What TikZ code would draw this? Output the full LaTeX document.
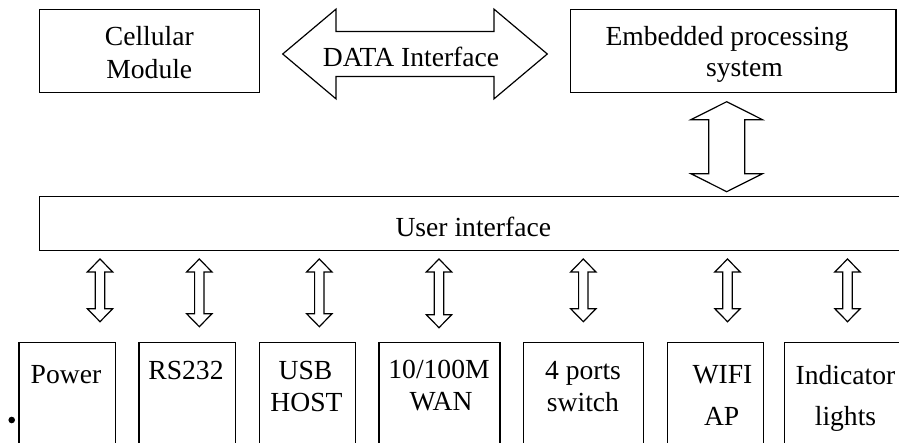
\documentclass[tikz,border=0pt]{standalone}
\usepackage{fontspec}
\setmainfont{Liberation Serif}
\usetikzlibrary{calc}
\tikzset{
  box/.style={draw=black, line width=1.3pt, inner sep=0pt, outer sep=0pt, fill=none},
  lbl/.style={inner sep=0pt, outer sep=0pt, anchor=base, font=\fontsize{27.6pt}{32pt}\selectfont},
  blk/.style={draw=black, line width=1.2pt, line join=miter, fill=white},
}
\newcommand\hdarrow[5]{%
  \draw[blk] let \p1=#1, \p2=#2 in (\p1) -- (\x1+#5pt,\y1+#4pt) -- (\x1+#5pt,\y1+#3pt) -- (\x2-#5pt,\y1+#3pt) -- (\x2-#5pt,\y1+#4pt) -- (\x2,\y1) -- (\x2-#5pt,\y1-#4pt) -- (\x2-#5pt,\y1-#3pt) -- (\x1+#5pt,\y1-#3pt) -- (\x1+#5pt,\y1-#4pt) -- cycle;}
\newcommand\vdarrow[5]{%
  \draw[blk] let \p1=#1, \p2=#2 in (\p1) -- (\x1+#4pt,\y1-#5pt) -- (\x1+#3pt,\y1-#5pt) -- (\x1+#3pt,\y2+#5pt) -- (\x1+#4pt,\y2+#5pt) -- (\x1,\y2) -- (\x1-#4pt,\y2+#5pt) -- (\x1-#3pt,\y2+#5pt) -- (\x1-#3pt,\y1-#5pt) -- (\x1-#4pt,\y1-#5pt) -- cycle;}
\begin{document}
\begin{tikzpicture}[x=1pt, y=-1pt]
\useasboundingbox (0,0) rectangle (899,443);
\fill[white] (0,0) rectangle (899,443);
\clip (0,0) rectangle (899,443);
% top boxes
\node[box, minimum width=220pt, minimum height=83.4pt] (cell) at (149.3,51) {};
\node[box, minimum width=325.3pt, minimum height=83.4pt] (emb) at (733.35,51) {};
\node[box, minimum width=868.7pt, minimum height=54pt] (ui) at (473.65,223.7) {};
% bottom boxes
\node[box, minimum width=96.7pt, minimum height=117.7pt] (pw) at (67.35,401.15) {};
\node[box, minimum width=96.3pt, minimum height=117.7pt] (rs) at (187.15,401.15) {};
\node[box, minimum width=96.4pt, minimum height=117.7pt] (usb) at (307.5,401.15) {};
\node[box, minimum width=121pt, minimum height=117.7pt] (wan) at (439.5,401.15) {};
\node[box, minimum width=120pt, minimum height=117.7pt] (sw) at (583.3,401.15) {};
\node[box, minimum width=96pt, minimum height=117.7pt] (wifi) at (715.3,401.15) {};
\node[box, minimum width=122.7pt, minimum height=117.7pt] (ind) at (845.65,401.15) {};
% labels
\node[lbl] (cellA) at (149.3,45.7) {Cellular};
\node[lbl] (cellB) at (149.3,78.3) {Module};
\node[lbl] (embA) at (727,45.7) {Embedded processing};
\node[lbl] (embB) at (744.5,77) {system};
\node[lbl] (uiT) at (473.3,236.7) {User interface};
\node[lbl] (pwT) at (66,383.3) {Power};
\node[lbl] (rsT) at (186,379) {RS232};
\node[lbl] (usbA) at (305.5,379.3) {USB};
\node[lbl] (usbB) at (306.5,411.7) {HOST};
\node[lbl] (wanA) at (439,378.8) {10/100M};
\node[lbl] (wanB) at (441,410.5) {WAN};
\node[lbl] (swA) at (583,379) {4 ports};
\node[lbl] (swB) at (583,411.5) {switch};
\node[lbl] (wifiA) at (722.5,383.5) {WIFI};
\node[lbl] (wifiB) at (721.7,425) {AP};
\node[lbl] (indA) at (845.5,384) {Indicator};
\node[lbl] (indB) at (845.5,425) {lights};
% data interface arrow
\hdarrow{($(cell.east)+(23.4,3)$)}{($(emb.west)+(-23.4,3)$)}{22.5}{44.85}{53.3}
\node[lbl] (dataT) at (411,66.7) {DATA Interface};
% embedded <-> user interface
\vdarrow{($(emb.south)+(-6.65,9)$)}{($(ui.north)+(0,-5)$)}{18}{35.8}{18}
% user interface <-> bottom boxes
\vdarrow{($(ui.south -| pw.north)+(32.65,8.3)$)}{($(pw.north)+(0,-20.6)$)}{4.7}{12.7}{13}
\vdarrow{($(ui.south -| rs.north)+(12.15,8.3)$)}{($(rs.north)+(0,-15.6)$)}{4.7}{12.7}{13}
\vdarrow{($(ui.south -| usb.north)+(11.8,8.3)$)}{($(usb.north)+(0,-15.6)$)}{4.7}{12.7}{13}
\vdarrow{($(ui.south -| wan.north)+(-0.5,8.3)$)}{($(wan.north)+(0,-14.6)$)}{4.7}{12.7}{13}
\vdarrow{($(ui.south -| sw.north)+(0,8.3)$)}{($(sw.north)+(0,-20.6)$)}{4.7}{12.7}{13}
\vdarrow{($(ui.south -| wifi.north)+(12.2,8.3)$)}{($(wifi.north)+(0,-20.6)$)}{4.7}{12.7}{13}
\vdarrow{($(ui.south -| ind.north)+(1.85,8.3)$)}{($(ind.north)+(0,-20.6)$)}{4.7}{12.7}{13}
% bullet
\node[circle, fill=black, inner sep=0pt, minimum size=6.6pt] (dot) at (11.7,420) {};
\end{tikzpicture}
\end{document}
